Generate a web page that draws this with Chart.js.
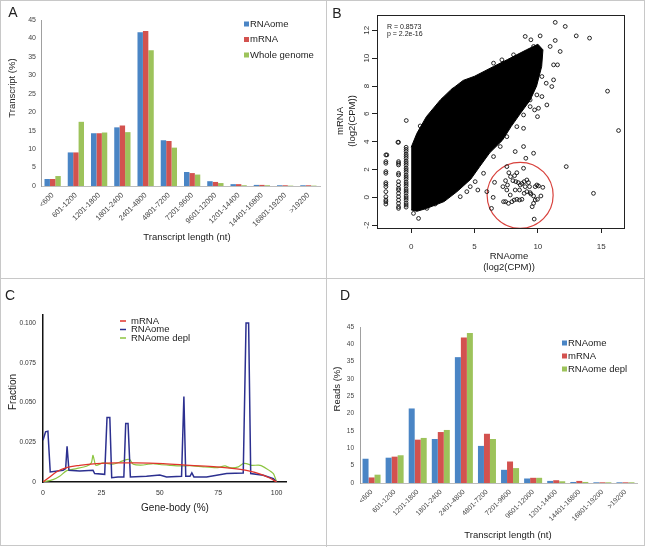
<!DOCTYPE html>
<html>
<head>
<meta charset="utf-8">
<script src="https://cdn.jsdelivr.net/npm/chart.js@4.4.1/dist/chart.umd.min.js"></script>
<style>
    body { margin: 0; background: #fff; }
    #fig { position: relative; width: 645px; height: 547px; overflow: hidden; background: #fff; }
    .panel { position: absolute; }
    .panel canvas { display: block; }
    .rule { position: absolute; background: #c8c8c8; }
</style>
</head>
<body>
<div id="fig">
    <div class="panel" style="left:0;top:0"><canvas id="chartA" width="326" height="278"></canvas></div>
    <div class="panel" style="left:326px;top:0"><canvas id="chartB" width="319" height="278"></canvas></div>
    <div class="panel" style="left:0;top:278px"><canvas id="chartC" width="326" height="269"></canvas></div>
    <div class="panel" style="left:326px;top:278px"><canvas id="chartD" width="319" height="269"></canvas></div>
    <div class="rule" style="left:326px;top:0;width:1px;height:547px"></div>
    <div class="rule" style="left:0;top:278px;width:645px;height:1px"></div>
    <div class="rule" style="left:0;top:0;width:1px;height:546px"></div>
    <div class="rule" style="left:644px;top:0;width:1px;height:546px"></div>
    <div class="rule" style="left:0;top:545px;width:645px;height:1px"></div>
    <div class="rule" style="left:0;top:0;width:645px;height:1px"></div>
</div>

<script>
/* =========================
        DATA
========================= */
const lengthBins = ["<600", "601-1200", "1201-1800", "1801-2400", "2401-4800", "4801-7200",
    "7201-9600", "9601-12000", "1201-14400", "14401-16800", "16801-19200", ">19200"];
const pctTicks = [0, 5, 10, 15, 20, 25, 30, 35, 40, 45];

// A: transcript length distribution (%)
const aRNAome = [1.9, 9.1, 14.3, 15.9, 41.7, 12.4, 3.8, 1.3, 0.5, 0.3, 0.2, 0.2];
const aMRNA   = [1.9, 9.1, 14.3, 16.4, 42.0, 12.2, 3.5, 1.1, 0.5, 0.3, 0.2, 0.2];
const aGenome = [2.7, 17.4, 14.5, 14.6, 36.8, 10.4, 3.1, 0.8, 0.2, 0.2, 0.1, 0.1];

// D: reads per transcript length (%)
const dRNAome = [7.0, 7.3, 21.5, 12.7, 36.3, 10.7, 3.8, 1.3, 0.6, 0.3, 0.2, 0.2];
const dMRNA   = [1.6, 7.6, 12.5, 14.7, 42.0, 14.2, 6.2, 1.5, 0.8, 0.6, 0.2, 0.2];
const dDepl   = [2.4, 8.0, 13.0, 15.3, 43.3, 12.7, 4.3, 1.5, 0.5, 0.3, 0.2, 0.2];

// B: RNAome vs mRNA log2(CPM)
const bXTicks = [0, 5, 10, 15];
const bYTicks = [-2, 0, 2, 4, 6, 8, 10, 12];
// outline of the saturated point cloud
const bCloud = [[0, -0.9], [0.45, -1.0], [1.2, -0.8], [2.6, -0.3], [3.6, 0.4], [4.7, 1.3], [5.4, 2.2],
    [6.2, 3.2], [7.2, 4.1], [7.9, 5.1], [8.6, 6.0], [9.4, 7.0], [9.9, 8.0], [10.3, 9.4], [10.4, 10.6],
    [10.0, 11.0], [9.1, 10.6], [7.6, 9.9], [6.5, 9.4], [5.0, 8.7], [4.1, 8.4], [3.1, 7.7], [2.3, 7.0],
    [1.2, 5.8], [0.45, 4.6], [0, 3.6]];
// discrete columns of low-count genes
const bColNeg2 = [3.05, 2.57, 2.45, 1.85, 1.73, 1.06, 0.94, 0.77, 0.41, 0.05, -0.19, -0.31, -0.48];
const bColNeg1 = [3.96, 2.57, 2.45, 2.33, 1.73, 1.61, 1.13, 0.89, 0.65, 0.53, 0.29, 0.05, -0.19, -0.43, -0.67, -0.79];
const bColNeg04 = [3.6, 3.45, 3.3, 3.1, 2.95, 2.8, 2.6, 2.45, 2.3, 2.1, 1.95, 1.8, 1.6, 1.45, 1.3, 1.1,
    0.95, 0.8, 0.6, 0.45, 0.3, 0.1, -0.05, -0.2, -0.4, -0.55, -0.7];
// points inside the red circle
const bCircled = [[6.58, 1.08], [6.47, 0], [6.34, -0.79], [7.45, 1.2], [7.6, 0.89], [7.71, 1.77], [7.84, 1.49],
    [8.16, 1.56], [8.34, 1.77], [8.03, 1.2], [8.26, 1.13], [8.45, 1.06], [8.61, 0.89], [8.74, 1.0], [8.92, 1.13],
    [9.13, 1.25], [9.26, 1.06], [9.34, 0.77], [7.95, -0.31], [8.13, -0.19], [8.34, -0.14], [8.55, -0.19],
    [8.74, -0.14], [7.29, -0.31], [7.45, -0.31], [7.68, -0.43], [8.92, 0.29], [9.13, 0.41], [9.39, 0.34],
    [9.45, 0.24], [9.66, 0.1], [9.79, 0.77], [9.92, 0.89], [10.05, 0.82], [10.39, 0.72], [9.55, -0.67],
    [9.66, -0.43], [9.79, -0.19], [9.97, -0.14], [10.24, 0.1], [9.71, -1.56], [8.87, 2.09], [7.24, 0.77],
    [7.55, 0.53], [7.82, 0.17], [8.21, 0.53], [8.55, 0.53], [9.0, 0.77]];
// other scattered genes
const bOutliers = [[9.05, 2.81], [9.66, 3.17], [12.24, 2.21], [14.39, 0.29], [15.5, 7.63], [16.37, 4.8],
    [14.08, 11.44], [13.03, 11.6], [12.16, 12.28], [11.37, 12.57], [11.37, 11.27], [10.97, 10.84],
    [11.76, 10.48], [11.55, 9.52], [11.24, 9.52], [9.0, 11.56], [9.45, 11.32], [10.18, 11.6], [9.66, 10.84],
    [8.87, 4.96], [9.97, 5.8], [10.71, 6.64], [11.24, 8.44], [11.1, 7.96], [10.66, 8.2], [10.32, 7.24],
    [10.05, 6.4], [9.74, 6.28], [9.39, 7.0], [7.55, 2.21], [8.21, 3.29], [8.87, 3.65], [5.97, 0.41],
    [5.26, 0.53], [4.66, 0.77], [4.13, 1.06], [3.34, 0.65], [2.95, 0.41], [2.42, -0.07], [1.89, -0.48],
    [1.24, -0.79], [0.58, -1.51], [0.18, -1.15], [-0.39, 5.52], [-1.05, 3.96], [-1.92, 3.05],
    [4.13, 7.77], [3.34, 7.72], [5.18, 8.2], [7.16, 9.88], [8.08, 10.24], [6.5, 9.64], [0.71, 5.13],
    [1.5, 5.8], [2.03, 6.4], [2.55, 7.0], [6.5, 2.93], [7.03, 3.65], [7.55, 4.36], [8.34, 5.08],
    [8.87, 5.92], [9.39, 6.52], [9.92, 7.36], [10.32, 8.68], [5.71, 1.73], [5.05, 1.13], [4.39, 0.41],
    [3.87, 0.05]];
const bRing = [8.6, 0.15];

// C: gene-body coverage
const cXTicks = [0, 25, 50, 75, 100];
const cYTicks = [0, 0.025, 0.05, 0.075, 0.1];
const cMRNA = [[0, 0], [2.9, 0.0032], [5.7, 0.0063], [10, 0.009], [15.7, 0.0105], [22.9, 0.0116],
    [31.4, 0.012], [40, 0.012], [51.4, 0.0116], [62.9, 0.0105], [74.3, 0.0095], [82.9, 0.0082],
    [88, 0.007], [93, 0.005], [97, 0.0025], [100, 0]];
const cRNAome = [[0, 0.0263], [1.1, 0.0316], [2.1, 0.032], [3.1, 0.0063], [8.6, 0.0074], [9.7, 0.0084],
    [10.3, 0.0225], [11.1, 0.0074], [15.7, 0.0069], [21.4, 0.0074], [22.1, 0.0053], [26.4, 0.0048],
    [27.4, 0.0406], [28.6, 0.0406], [29.4, 0.0027], [32.1, 0.0032], [34.6, 0.0032], [35.4, 0.0368],
    [36.4, 0.0368], [37.4, 0.0032], [44.3, 0.0036], [50, 0.0044], [52.9, 0.0032], [59.3, 0.0036],
    [60.3, 0.0537], [61.1, 0.0036], [62.9, 0.0036], [63.7, 0.0057], [64.6, 0.0032], [70, 0.0032],
    [78.6, 0.0053], [85.7, 0.0057], [86.9, 0.1], [88, 0.1], [88.9, 0.0053], [94.3, 0.0042],
    [98.6, 0.0021], [100, 0]];
const cDepl = [[0, 0], [4.3, 0.0015], [7.1, 0.0036], [10, 0.007], [14.3, 0.0084], [18.6, 0.0099],
    [20.7, 0.012], [21.4, 0.0168], [22.6, 0.0105], [25.7, 0.012], [30, 0.0112], [32.9, 0.0126],
    [35.7, 0.0141], [37.1, 0.0141], [38.6, 0.0112], [42.9, 0.0107], [47.1, 0.0116], [50, 0.011],
    [54.3, 0.0105], [58.6, 0.0101], [62.9, 0.0103], [68.6, 0.0095], [74.3, 0.009], [77.9, 0.0101],
    [80, 0.009], [83.6, 0.0095], [85.7, 0.0116], [87.1, 0.0116], [89.3, 0.0105], [92.9, 0.0105],
    [95.7, 0.0084], [98.6, 0.0053], [100, 0]];

/* =========================
        STYLE
========================= */
const FONT = '"Liberation Sans", Arial, sans-serif';
const barColors = ["#4a85c5", "#d3524f", "#9dc35b"];

Chart.defaults.font.family = FONT;
Chart.defaults.color = "#333";
Chart.defaults.animation = false;

const toXY = pts => pts.map(p => ({ x: p[0], y: p[1] }));
const keepTicks = list => scale => { scale.ticks = list.map(v => ({ value: v })); };

// free text: panel letters, axis titles
const notesPlugin = {
    id: "notes",
    afterDraw(chart, args, opts) {
        const ctx = chart.ctx;
        (opts.items || []).forEach(n => {
            ctx.save();
            ctx.font = n.font;
            ctx.fillStyle = n.color || "#222";
            ctx.textAlign = n.align || "center";
            ctx.textBaseline = "middle";
            ctx.translate(n.x, n.y);
            if (n.rot) ctx.rotate(n.rot);
            ctx.fillText(n.text, 0, 0);
            ctx.restore();
        });
    }
};

// small legend drawn from the datasets
const keyPlugin = {
    id: "key",
    afterDraw(chart, args, opts) {
        if (!opts.x) return;
        const ctx = chart.ctx;
        ctx.save();
        ctx.font = opts.font;
        ctx.textBaseline = "middle";
        ctx.textAlign = "left";
        chart.data.datasets.forEach((ds, i) => {
            const y = opts.y + i * opts.step;
            if (opts.marker === "line") {
                ctx.strokeStyle = ds.borderColor;
                ctx.lineWidth = 1.5;
                ctx.beginPath();
                ctx.moveTo(opts.x, y);
                ctx.lineTo(opts.x + 6, y);
                ctx.stroke();
                ctx.fillStyle = "#222";
                ctx.fillText(ds.label, opts.x + 11, y);
            } else {
                ctx.fillStyle = ds.backgroundColor;
                ctx.fillRect(opts.x, y - 2.5, 5, 5);
                ctx.fillStyle = "#222";
                ctx.fillText(ds.label, opts.x + 6, y);
            }
        });
        ctx.restore();
    }
};

Chart.register(notesPlugin, keyPlugin);

/* =========================
        BAR PANELS (A, D)
========================= */
function barPanel(id, series, names, cfg) {
    return new Chart(document.getElementById(id), {
        type: "bar",
        data: {
            labels: lengthBins,
            datasets: series.map((s, i) => ({
                label: names[i],
                data: s,
                backgroundColor: barColors[i],
                categoryPercentage: cfg.cat,
                barPercentage: 1.0
            }))
        },
        options: {
            responsive: false,
            layout: { autoPadding: false, padding: { top: cfg.top, right: cfg.right, left: 0, bottom: 0 } },
            plugins: {
                legend: { display: false },
                tooltip: { enabled: false },
                key: cfg.key,
                notes: { items: cfg.notes }
            },
            scales: {
                x: {
                    grid: { display: false, drawTicks: false },
                    border: { color: "#bdbdbd" },
                    ticks: {
                        autoSkip: false, minRotation: 45, maxRotation: 45,
                        font: { size: cfg.xFont }, color: "#444", padding: 5
                    },
                    afterFit: s => { s.height = cfg.xH; }
                },
                y: {
                    min: 0, max: 45,
                    grid: { display: false, drawTicks: false },
                    border: { color: "#a0a0a0" },
                    ticks: { font: { size: cfg.yFont }, color: "#444", padding: cfg.yPad },
                    afterBuildTicks: keepTicks(pctTicks),
                    afterFit: s => { s.width = cfg.yW; }
                }
            }
        }
    });
}

barPanel("chartA", [aRNAome, aMRNA, aGenome], ["RNAome", "mRNA", "Whole genome"], {
    cat: 0.7, top: 20, right: 6, xH: 92, yW: 41, xFont: 7.5, yFont: 7, yPad: 5,
    key: { x: 244, y: 24, step: 15.5, font: "9.5px " + FONT },
    notes: [
        { text: "A", x: 13, y: 13, font: "14px " + FONT },
        { text: "Transcript (%)", x: 12, y: 88, rot: -Math.PI / 2, font: "9.5px " + FONT },
        { text: "Transcript length (nt)", x: 187, y: 237, font: "9.5px " + FONT }
    ]
});

barPanel("chartD", [dRNAome, dMRNA, dDepl], ["RNAome", "mRNA", "RNAome depl"], {
    cat: 0.78, top: 49, right: 8, xH: 64, yW: 34, xFont: 7, yFont: 6.5, yPad: 6,
    key: { x: 236, y: 65, step: 13, font: "9.5px " + FONT },
    notes: [
        { text: "D", x: 19, y: 18, font: "14px " + FONT },
        { text: "Reads (%)", x: 11, y: 111, rot: -Math.PI / 2, font: "9.5px " + FONT },
        { text: "Transcript length (nt)", x: 182, y: 257, font: "9.5px " + FONT }
    ]
});

/* =========================
        SCATTER (B)
========================= */
const frameB = {
    id: "frameB",
    afterDraw(chart) {
        const { ctx, chartArea: a, scales } = chart;
        ctx.save();
        ctx.strokeStyle = "#222";
        ctx.lineWidth = 1;
        ctx.strokeRect(a.left + 0.5, a.top + 0.5, a.right - a.left, a.bottom - a.top);
        // R style vertical y labels
        ctx.font = "8px " + FONT;
        ctx.fillStyle = "#333";
        ctx.textAlign = "center";
        ctx.textBaseline = "middle";
        scales.y.ticks.forEach(t => {
            ctx.save();
            ctx.translate(a.left - 10, scales.y.getPixelForValue(t.value));
            ctx.rotate(-Math.PI / 2);
            ctx.fillText(String(t.value), 0, 0);
            ctx.restore();
        });
        ctx.restore();
    }
};

const hollow = { pointRadius: 1.9, pointBorderWidth: 0.9, borderColor: "#111", backgroundColor: "rgba(0,0,0,0)", showLine: false };

new Chart(document.getElementById("chartB"), {
    type: "scatter",
    data: {
        datasets: [
            { data: toXY(bCloud), showLine: true, fill: "shape", backgroundColor: "#000", borderColor: "#000", borderWidth: 1, pointRadius: 0 },
            { data: bColNeg2.map(v => ({ x: -2, y: v })), ...hollow },
            { data: bColNeg1.map(v => ({ x: -1, y: v })), ...hollow },
            { data: bColNeg04.map(v => ({ x: -0.4, y: v })), ...hollow },
            { data: toXY(bCircled), ...hollow },
            { data: toXY(bOutliers), ...hollow },
            { data: [{ x: bRing[0], y: bRing[1] }], pointRadius: 33, pointBorderWidth: 1.2, borderColor: "#d8423d", backgroundColor: "rgba(0,0,0,0)" }
        ]
    },
    options: {
        responsive: false,
        layout: { autoPadding: false, padding: { top: 15, right: 21, left: 0, bottom: 0 } },
        plugins: {
            legend: { display: false },
            tooltip: { enabled: false },
            notes: {
                items: [
                    { text: "B", x: 11, y: 14, font: "14px " + FONT },
                    { text: "R = 0.8573", x: 61, y: 27, align: "left", font: "7px " + FONT },
                    { text: "p = 2.2e-16", x: 61, y: 34.5, align: "left", font: "7px " + FONT },
                    { text: "mRNA", x: 14, y: 121, rot: -Math.PI / 2, font: "9.5px " + FONT },
                    { text: "(log2(CPM))", x: 26, y: 121, rot: -Math.PI / 2, font: "9.5px " + FONT },
                    { text: "RNAome", x: 183, y: 256, font: "9.5px " + FONT },
                    { text: "(log2(CPM))", x: 183, y: 267, font: "9.5px " + FONT }
                ]
            }
        },
        scales: {
            x: {
                type: "linear", min: -2.7, max: 16.8,
                grid: { display: true, drawOnChartArea: false, tickLength: 5, color: "#222" },
                border: { color: "#222" },
                ticks: { font: { size: 8 }, color: "#333", padding: 9 },
                afterBuildTicks: keepTicks(bXTicks),
                afterFit: s => { s.height = 50; }
            },
            y: {
                min: -2.2, max: 13.1,
                grid: { display: true, drawOnChartArea: false, tickLength: 5, color: "#222" },
                border: { color: "#222" },
                ticks: { callback: () => "" },
                afterBuildTicks: keepTicks(bYTicks),
                afterFit: s => { s.width = 51; }
            }
        }
    },
    plugins: [frameB]
});

/* =========================
        COVERAGE (C)
========================= */
new Chart(document.getElementById("chartC"), {
    type: "line",
    data: {
        datasets: [
            { label: "mRNA", data: toXY(cMRNA), borderColor: "#e0342c", borderWidth: 1.3, pointRadius: 0, tension: 0.4, cubicInterpolationMode: "monotone" },
            { label: "RNAome", data: toXY(cRNAome), borderColor: "#2c3090", borderWidth: 1.5, pointRadius: 0, tension: 0 },
            { label: "RNAome depl", data: toXY(cDepl), borderColor: "#8cc540", borderWidth: 1.2, pointRadius: 0, tension: 0.2 }
        ]
    },
    options: {
        responsive: false,
        layout: { autoPadding: false, padding: { top: 37, right: 40, left: 0, bottom: 0 } },
        plugins: {
            legend: { display: false },
            tooltip: { enabled: false },
            key: { x: 120, y: 43, step: 8.5, marker: "line", font: "9.5px " + FONT },
            notes: {
                items: [
                    { text: "C", x: 10, y: 18, font: "14px " + FONT },
                    { text: "Fraction", x: 13, y: 114, rot: -Math.PI / 2, font: "10px " + FONT },
                    { text: "Gene-body (%)", x: 175, y: 230, font: "10px " + FONT }
                ]
            }
        },
        scales: {
            x: {
                type: "linear", min: 0, max: 104,
                grid: { display: false, drawTicks: false },
                border: { color: "#111", width: 1.5 },
                ticks: { font: { size: 7 }, color: "#333", padding: 7 },
                afterBuildTicks: keepTicks(cXTicks),
                afterFit: s => { s.height = 65; }
            },
            y: {
                min: 0, max: 0.105,
                grid: { display: false, drawTicks: false },
                border: { color: "#111", width: 1.5 },
                ticks: {
                    font: { size: 6.6 }, color: "#333", padding: 7,
                    callback: v => (v === 0 ? "0" : v.toFixed(3))
                },
                afterBuildTicks: keepTicks(cYTicks),
                afterFit: s => { s.width = 43; }
            }
        }
    }
});
</script>
</body>
</html>
